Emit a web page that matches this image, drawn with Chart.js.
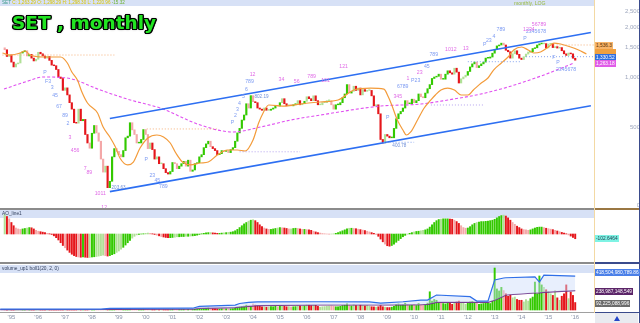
<!DOCTYPE html>
<html>
<head>
<meta charset="utf-8">
<title>SET , monthly</title>
<script src="https://cdn.jsdelivr.net/npm/chart.js@4.4.0/dist/chart.umd.min.js"></script>
<style>
  html, body { margin: 0; padding: 0; }
  body { width: 640px; height: 323px; overflow: hidden; position: relative; background: #fff;
         font-family: "Liberation Sans", Arial, sans-serif; }
  .strip { position: absolute; background: #d7e1f6; }
  #chart { position: absolute; left: -60px; top: -60px; z-index: 1; }
  .ov { position: absolute; z-index: 2; }
  .hdr { font-size: 4.6px; line-height: 6px; white-space: nowrap; }
  .phdr { left: 2px; font-size: 4.8px; line-height: 8px; color: #33405e; white-space: nowrap; }
  #title { left: 12px; top: 14px; font: bold 18.5px "DejaVu Sans", Verdana, sans-serif; line-height: 1;
           color: #22e422; white-space: nowrap;
           text-shadow: -1.4px 0 #000, 1.4px 0 #000, 0 -1.4px #000, 0 1.4px #000,
                        -1px -1px #000, 1px -1px #000, -1px 1px #000, 1px 1px #000, 0 0 3px rgba(0,0,0,.6); }
  .badge { position: absolute; z-index: 3; left: 595px; height: 7px; line-height: 7px; font-size: 4.8px;
           padding: 0 1px; white-space: nowrap; }
  #btn { left: 595px; top: 313px; width: 43px; height: 10px; background: #e9ebf0; }
  #arrow { left: 614px; top: 316px; width: 0; height: 0; border-left: 3px solid transparent;
           border-right: 3px solid transparent; border-bottom: 5px solid #2446c8; }
</style>
</head>
<body>
<div class="strip" style="left:0;top:0;width:594px;height:6px"></div>
<div class="strip" style="left:0;top:210px;width:594px;height:8px"></div>
<div class="strip" style="left:0;top:265px;width:594px;height:8px"></div>

<canvas id="chart" width="760" height="443"></canvas>

<div class="ov" style="left:594px;top:0;width:1px;height:313px;background:#f3d9a3"></div>
<div class="ov" style="left:639px;top:0;width:1px;height:323px;background:#3a4b8c"></div>
<div class="ov" style="left:0;top:208px;width:594px;height:2px;background:#8b8b8b"></div>
<div class="ov" style="left:595px;top:208px;width:44px;height:2px;background:#9a7743"></div>
<div class="ov" style="left:0;top:262px;width:594px;height:2px;background:#8b8b8b"></div>
<div class="ov" style="left:595px;top:262px;width:44px;height:2px;background:#3a4b8c"></div>
<div class="ov" style="left:0;top:312px;width:594px;height:1px;background:#a0a0a0"></div>
<div class="ov" style="left:595px;top:312px;width:44px;height:1px;background:#3a4b8c"></div>
<div class="ov" id="btn"></div>
<div class="ov" id="arrow"></div>

<div class="ov hdr" style="left:2px;top:0"><span style="color:#3e9c8c">SET</span> <span style="color:#d8c400">C: 1,263.29 O: 1,298.29 H: 1,298.30 L: 1,220.96</span> <span style="color:#6cb030">-15.32</span></div>
<div class="ov hdr" style="left:514px;top:0;color:#97b83a;font-size:5.2px">monthly, LOG</div>
<div class="ov" id="title">SET , monthly</div>
<div class="ov phdr" style="top:210px">AO_line1</div>
<div class="ov phdr" style="top:265px">volume_up1 boll1(20, 2, 0)</div>

<div class="badge" style="top:41.5px;background:#f7b46a;color:#5a3000">1,536.3</div>
<div class="badge" style="top:49px;width:19px;background:#f0a040"></div>
<div class="badge" style="top:53.5px;background:#2f6fe0;color:#fff">1,330.52</div>
<div class="badge" style="top:59.5px;background:#e05ce8;color:#fff">1,263.18</div>
<div class="badge" style="top:234.5px;background:#7ff3e4;color:#245">-102.6464</div>
<div class="badge" style="top:268.5px;background:#4a7fe8;color:#fff">418,504,980,789.86</div>
<div class="badge" style="top:287.5px;background:#5b2468;color:#fff">238,987,148,549</div>
<div class="badge" style="top:299.5px;background:#6b6b6b;color:#fff">92,225,088,996</div>

<script>
const FONT = "'Liberation Sans', Arial, sans-serif";
const GREEN = '#33c900', PALE_GREEN = '#b0e096', RED = '#e5161b', PALE_RED = '#f4a8a8';

// months counted from Jan 1995; first bar is Oct 1994
const firstMonth = -3;
const firstOpen = 1500;

// monthly closes Oct 1994 .. Jan 2016
const closes = [
  1460, 1330, 1360,
  1230, 1150, 1200, 1215, 1395, 1420, 1440, 1340, 1370, 1300, 1250, 1280,
  1410, 1380, 1340, 1300, 1330, 1260, 1180, 1170, 1110, 1000, 980, 831,
  860, 780, 700, 640, 530, 527, 640, 545, 555, 450, 400, 372,
  458, 510, 460, 410, 320, 267, 290, 215, 235, 330, 370, 356,
  340, 330, 360, 430, 440, 530, 480, 450, 400, 400, 420, 482,
  450, 370, 400, 365, 320, 330, 300, 300, 280, 265, 260, 269,
  305, 300, 280, 290, 300, 310, 290, 315, 270, 275, 300, 304,
  330, 340, 375, 395, 410, 380, 370, 360, 340, 345, 360, 356,
  360, 350, 365, 375, 410, 460, 490, 550, 590, 690, 650, 772,
  710, 700, 650, 640, 630, 650, 630, 630, 640, 650, 670, 668,
  700, 740, 690, 670, 680, 670, 680, 690, 720, 680, 690, 714,
  760, 740, 720, 770, 720, 680, 680, 700, 700, 720, 720, 680,
  640, 680, 680, 700, 750, 790, 900, 800, 820, 880, 830, 858,
  780, 840, 820, 830, 830, 770, 670, 680, 600, 420, 400, 450,
  440, 430, 430, 490, 560, 600, 620, 650, 720, 690, 690, 735,
  700, 720, 790, 760, 750, 800, 850, 900, 980, 1000, 1010, 1040,
  970, 970, 1040, 1090, 1060, 1040, 1130, 1070, 920, 975, 1000, 1025,
  1080, 1150, 1200, 1230, 1140, 1170, 1200, 1230, 1300, 1300, 1320, 1392,
  1470, 1540, 1560, 1600, 1560, 1450, 1420, 1300, 1380, 1440, 1370, 1299,
  1275, 1325, 1375, 1415, 1420, 1485, 1500, 1560, 1585, 1585, 1590, 1498,
  1580, 1590, 1505, 1525, 1495, 1505, 1440, 1380, 1350, 1395, 1380, 1298,
  1263.29
];

// AO_line1, same months
const aoValues = [
  420, 380, 330,
  250, 180, 130, 110, 100, 110, 120, 130, 140, 135, 110, 80,
  60, 50, 40, 30, 15, 5, -10, -40, -80, -130, -190, -250,
  -300, -350, -400, -440, -470, -490, -500, -505, -500, -505, -510, -510,
  -500, -495, -490, -480, -470, -460, -470, -480, -470, -450, -430, -400,
  -370, -330, -290, -240, -190, -140, -90, -50, -20, -10, 0, 5,
  15, 20, 15, 5, -10, -25, -40, -55, -65, -75, -80, -80,
  -75, -70, -60, -60, -55, -55, -50, -50, -45, -40, -35, -25,
  -10, 5, 15, 25, 30, 30, 25, 20, 15, 15, 20, 25,
  30, 35, 40, 50, 70, 100, 140, 180, 220, 250, 280, 300,
  310, 290, 250, 200, 160, 130, 110, 100, 100, 110, 120, 130,
  140, 135, 130, 120, 110, 110, 120, 125, 120, 110, 100, 100,
  95, 90, 80, 60, 45, 30, 20, 10, 5, 0, -5, 0,
  5, 15, 30, 50, 70, 90, 110, 125, 125, 120, 115, 105,
  95, 85, 75, 60, 45, 30, 15, -10, -50, -110, -170, -220,
  -255, -265, -250, -220, -180, -140, -100, -60, -30, -5, 15, 30,
  45, 55, 60, 70, 80, 90, 110, 150, 200, 250, 290, 315,
  325, 330, 330, 330, 325, 320, 300, 270, 230, 180, 140, 125,
  130, 160, 200, 230, 250, 260, 270, 270, 275, 280, 290, 300,
  320, 350, 380, 400, 410, 390, 350, 300, 250, 210, 170, 140,
  110, 95, 90, 80, 90, 110, 130, 145, 150, 150, 140, 125,
  115, 105, 95, 80, 65, 50, 35, 20, 5, -20, -45, -75,
  -102.6464
];

// volume, billions
const volumes = [
  6, 5, 5,
  6, 5, 7, 6, 5, 5, 6, 7, 8, 6, 5, 5,
  6, 5, 5, 4, 4, 4, 4, 4, 4, 4, 5, 4,
  4, 4, 4, 4, 5, 4, 6, 6, 5, 5, 4, 4,
  6, 7, 5, 5, 4, 3, 4, 4, 5, 6, 6, 5,
  6, 5, 6, 9, 9, 12, 10, 7, 6, 5, 6, 8,
  9, 8, 7, 5, 5, 5, 4, 4, 3, 3, 3, 3,
  9, 10, 7, 6, 7, 8, 6, 9, 7, 6, 8, 7,
  14, 13, 20, 22, 26, 18, 16, 14, 12, 11, 14, 12,
  14, 12, 14, 16, 24, 35, 38, 45, 48, 60, 50, 42,
  75, 60, 55, 45, 40, 40, 35, 38, 42, 40, 45, 40,
  48, 55, 45, 40, 42, 38, 40, 42, 55, 50, 45, 50,
  65, 60, 55, 60, 58, 45, 35, 40, 42, 45, 48, 50,
  45, 40, 40, 45, 55, 60, 75, 60, 50, 70, 55, 50,
  60, 55, 50, 55, 45, 40, 38, 35, 40, 55, 40, 35,
  30, 30, 35, 45, 70, 75, 60, 65, 85, 70, 55, 60,
  70, 55, 80, 65, 55, 60, 85, 225, 110, 130, 120, 95,
  90, 80, 75, 90, 85, 70, 95, 100, 110, 90, 85, 70,
  95, 100, 105, 90, 85, 70, 75, 80, 90, 85, 80, 110,
  518, 260, 235, 280, 240, 200, 170, 190, 150, 160, 130, 120,
  120, 100, 130, 110, 140, 160, 345, 200, 420, 310, 280, 250,
  230, 200, 180, 240, 150, 120, 170, 200, 310, 140, 220, 180,
  92.2
];

// bollinger bands of volume
const bandMonths = [-5, 40, 44, 81, 84, 100, 102, 106, 110, 138, 160, 165, 175, 183, 186, 190, 205, 208, 213, 216, 220, 221, 234, 236, 238, 252];
const bandUpper  = [10, 12, 20, 22, 45, 60, 80, 95, 100, 102, 100, 86, 102, 123, 123, 185, 165, 110, 110, 370, 395, 398, 408, 345, 430, 418.5];
const bandMiddle = [5, 6, 8, 10, 20, 30, 35, 45, 55, 62, 62, 62, 63, 65, 70, 95, 95, 95, 95, 120, 170, 185, 210, 212, 218, 239];

// orange moving average (shifted forward)
const orangeMonths = [-4, -0.5, 4, 6, 8.5, 14, 18.5, 22, 25, 27, 29.5, 31.5, 34, 38.5, 41, 44, 46.5, 48.5, 52, 54.5,
  57.5, 61, 65, 68, 71, 73.5, 76.5, 80, 84.5, 88, 92, 96.5, 101, 104.5, 108, 110.5, 112.5, 115, 122.5, 129,
  138, 146, 153, 160.5, 166.5, 168.5, 170, 172.5, 175, 176.5, 178.5, 181.5, 184.5, 187.5, 189.5, 192, 195, 198, 201, 204,
  206.5, 210, 213, 215.5, 219, 222, 224.5, 228, 231, 233.5, 236.5, 240, 242.5, 245.5, 250, 253.5, 257];
const orangeValues = [1396, 1357, 1396, 1435, 1357, 1320, 1320, 1320, 1215, 1072, 959, 812, 697, 607, 499, 435, 378, 325, 295, 307,
  373, 429, 447, 435, 400, 348, 307, 295, 303, 307, 338, 363, 363, 358, 417, 528, 607, 678, 668, 687,
  707, 727, 835, 858, 846, 757, 678, 550, 479, 447, 466, 550, 650, 727, 779, 835, 858, 835, 779, 779,
  835, 920, 986, 1102, 1215, 1320, 1455, 1517, 1455, 1396, 1415, 1517, 1603, 1581, 1517, 1455, 1376];

// long magenta average
const magentaMonths = [-3.3, 6.1, 14.2, 24.9, 39.7, 53.1, 66.5, 84.5, 99.2, 111.3, 124.8, 138.2, 165.1, 183, 195.1, 209.9, 221.9, 236.7, 251.5];
const magentaValues = [846, 933, 1000, 986, 835, 727, 650, 513, 466, 499, 550, 590, 668, 687, 727, 790, 870, 1014, 1215];

// trend channel
const channelMonths = [44, 259];
const channelLow = [203.63, 671];
const channelHigh = [562, 1854];

// horizontal levels: [value, from month, to month]
const orangeLevels = [[1357, -4, 46], [486, 60.5, 92], [1560, 241, 260.4]];
const lilacLevels = [[354, 102, 129], [678, 187.5, 211]];
const blueLevels = [[404, 165, 180], [1237, 204, 228], [1326, 230, 260.4]];

// wave count marks: [month, price, text]
const blueMarks = [
  [15.0, 1057, 'P'], [16.4, 933, 'F3'], [18.2, 858, '3'], [19.5, 768, '45'], [21.3, 659, '67'], [24.0, 582, '89'], [25.3, 521, '2'],
  [60.3, 316, 'P'], [63.0, 256, '23'], [65.2, 239, '45'], [67.9, 217, '789'],
  [98.8, 528, 'P'], [100.1, 582, '2'], [101.0, 632, '3'], [101.9, 687, '4'], [103.7, 757, '5'], [105.1, 835, '6'], [106.4, 933, '789'],
  [168.2, 566, 'P'], [174.9, 870, '6789'], [180.7, 946, 'P23'], [185.7, 1149, '45'], [188.8, 1357, '789'],
  [211.6, 1560, 'P'], [213.4, 1649, '23'], [215.7, 1743, '4'], [218.8, 1921, '789'],
  [229.6, 1695, 'P'], [234.5, 1868, '2345678'], [242.5, 1302, 'F'], [244.3, 1215, 'P'], [247.9, 1102, '2345678']
];
const pinkMarks = [
  [26.2, 429, '3'], [28.5, 358, '456'], [33.0, 282, '7'], [34.8, 264, '89'], [39.7, 197, '1011'], [41.5, 164, '12'],
  [107.8, 1028, '12'], [120.7, 959, '34'], [127.5, 933, '56'], [134.2, 1000, '789'], [140.4, 946, '101'], [148.5, 1149, '121'],
  [172.7, 757, '345'], [177.2, 973, '1'], [182.5, 1057, '23'], [196.4, 1455, '1012'], [203.1, 1475, '13'],
  [231.3, 1921, '1234'], [235.8, 2058, '56789']
];
const priceNotes = [[47.9, 214, '203.63'], [111.8, 757, '802.19'], [173.4, 383, '400.78']];

const yearLabels = ["'95", "'96", "'97", "'98", "'99", "'00", "'01", "'02", "'03", "'04", "'05",
  "'06", "'07", "'08", "'09", "'10", "'11", "'12", "'13", "'14", "'15", "'16"];
const priceTicks = [169, 500, 1000, 1500, 2000, 2500];
const priceTickLabels = ['0', '500', '1,000', '1,500', '2,000', '2,500'];
const aoTicks = [-500, 0];
const aoTickLabels = ['-500', '0'];
const volTicks = [0];
const volTickLabels = ['0'];

// ---- derived from the arrays above ----
const opens = closes.map((c, i) => i === 0 ? firstOpen : closes[i - 1]);
const up = closes.map((c, i) => c >= opens[i]);
const aoUp = aoValues.map((v, i) => i === 0 ? true : v >= aoValues[i - 1]);
const barColor = closes.map((c, i) => up[i] ? (aoUp[i] ? GREEN : PALE_GREEN) : (!aoUp[i] ? RED : PALE_RED));
const aoColor = aoValues.map((v, i) => aoUp[i] ? (up[i] ? GREEN : PALE_GREEN) : (!up[i] ? RED : PALE_RED));
const monthOf = i => i + firstMonth;

const pts = (xs, ys) => xs.map((x, i) => ({ x, y: ys[i] }));
const line = (data, color, width, extra) => Object.assign({
  type: 'line', data, borderColor: color, borderWidth: width, pointRadius: 0, fill: false, yAxisID: 'yP'
}, extra || {});
const levelSets = (levels, color) => levels.map(([v, a, b]) =>
  line([{ x: a, y: v }, { x: b, y: v }], color, 1, { borderDash: [1, 2] }));

const measure = document.createElement('canvas').getContext('2d');
function padFor(labels, size) {
  measure.font = 'normal ' + size + 'px ' + FONT;
  return 42.5 - Math.max(...labels.map(t => measure.measureText(t).width));
}

const waveLabels = {
  id: 'waveLabels',
  afterDatasetsDraw(chart) {
    const { ctx, scales } = chart;
    ctx.save();
    ctx.textAlign = 'center';
    ctx.textBaseline = 'middle';
    const put = (list, color, size) => {
      ctx.font = size + 'px ' + FONT;
      ctx.fillStyle = color;
      list.forEach(([m, v, t]) => ctx.fillText(t, scales.x.getPixelForValue(m), scales.yP.getPixelForValue(v)));
    };
    put(blueMarks, '#7d9bf2', 5.2);
    put(pinkMarks, '#e06ae6', 5.2);
    put(priceNotes, '#6f8fd8', 4.6);
    ctx.restore();
  }
};

const tickFont = { size: 6, family: FONT };
const tickColor = '#9ea7bd';
const noGrid = { display: false, drawTicks: false };

new Chart(document.getElementById('chart'), {
  type: 'bar',
  data: {
    datasets: [
      ...levelSets(orangeLevels, '#f5b07a'),
      ...levelSets(lilacLevels, '#b4a2ee'),
      ...levelSets(blueLevels, '#86a4ee'),
      line(pts(channelMonths, channelLow), '#2d6ff2', 1.6),
      line(pts(channelMonths, channelHigh), '#2d6ff2', 1.6),
      line(pts(orangeMonths, orangeValues), '#f39b3a', 1.2, { cubicInterpolationMode: 'monotone' }),
      line(pts(magentaMonths, magentaValues), '#e04ff0', 1.1, { borderDash: [3, 2], cubicInterpolationMode: 'monotone' }),
      line(pts(bandMonths, bandUpper), '#2f6fe8', 1.2, { yAxisID: 'yV', fill: '+1', backgroundColor: 'rgba(205,220,250,0.45)' }),
      line(pts(bandMonths, bandMiddle), '#6a2a80', 1.2, { yAxisID: 'yV' }),
      {
        type: 'bar', yAxisID: 'yP', grouped: false, barThickness: 1.5, minBarLength: 0.8,
        data: closes.map((c, i) => ({ x: monthOf(i), y: [opens[i], c] })),
        backgroundColor: barColor
      },
      {
        type: 'bar', yAxisID: 'yA', grouped: false, barThickness: 1.3,
        data: aoValues.map((v, i) => ({ x: monthOf(i), y: v })),
        backgroundColor: aoColor
      },
      {
        type: 'bar', yAxisID: 'yV', grouped: false, barThickness: 1.3,
        data: volumes.map((v, i) => ({ x: monthOf(i), y: v })),
        backgroundColor: barColor
      }
    ]
  },
  options: {
    responsive: false,
    maintainAspectRatio: false,
    devicePixelRatio: 1,
    animation: false,
    events: [],
    layout: { padding: 60 },
    plugins: { legend: { display: false }, tooltip: { enabled: false } },
    scales: {
      x: {
        type: 'linear', min: -5.1, max: 260.4, offset: false,
        grid: { display: false, drawTicks: false, offset: false }, border: { display: false },
        afterBuildTicks: s => { s.ticks = yearLabels.map((_, i) => ({ value: i * 12 })); },
        afterFit: s => { s.height = 11; },
        ticks: { autoSkip: false, maxRotation: 0, padding: 2, color: '#8a94aa', font: tickFont,
                 callback: (v, i) => yearLabels[i] }
      },
      yP: {
        type: 'logarithmic', position: 'right', weight: 1, min: 38.26, max: 2913.8, bounds: 'data',
        grid: noGrid, border: { display: false },
        afterBuildTicks: s => { s.ticks = priceTicks.map(v => ({ value: v })); },
        afterFit: s => { s.width = 46; },
        ticks: { autoSkip: false, crossAlign: 'far', padding: padFor(priceTickLabels, 6), color: tickColor, font: tickFont,
                 callback: (v, i) => priceTickLabels[i] }
      },
      yA: {
        type: 'linear', position: 'right', weight: 0, min: -1695.7, max: 5087, bounds: 'data',
        grid: noGrid, border: { display: false },
        afterBuildTicks: s => { s.ticks = aoTicks.map(v => ({ value: v })); },
        afterFit: s => { s.width = 0; },
        ticks: { autoSkip: false, crossAlign: 'far', padding: padFor(aoTickLabels, 6), color: tickColor, font: tickFont,
                 callback: (v, i) => aoTickLabels[i] }
      },
      yV: {
        type: 'linear', position: 'right', weight: 0, min: -24.7, max: 3827, bounds: 'data',
        grid: noGrid, border: { display: false },
        afterBuildTicks: s => { s.ticks = volTicks.map(v => ({ value: v })); },
        afterFit: s => { s.width = 0; },
        ticks: { autoSkip: false, crossAlign: 'far', padding: padFor(volTickLabels, 6), color: tickColor, font: tickFont,
                 callback: (v, i) => volTickLabels[i] }
      }
    }
  },
  plugins: [waveLabels]
});
</script>
</body>
</html>
